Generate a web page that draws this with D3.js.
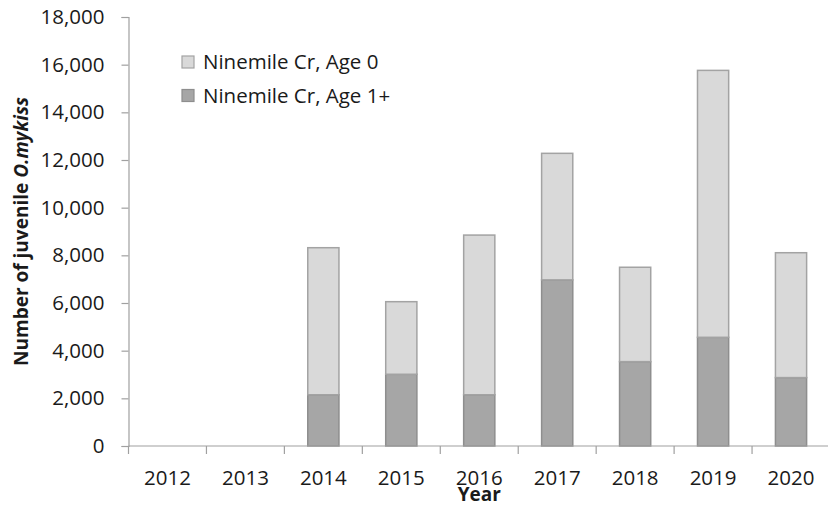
<!DOCTYPE html>
<html>
<head>
<meta charset="utf-8">
<script src="https://cdn.jsdelivr.net/npm/d3@7"></script>
<style>
  body { margin: 0; background: #fff; }
  text { font-family: "Open Sans", "Liberation Sans", sans-serif; fill: #1a1a1a; }
</style>
</head>
<body>
<div id="chart"></div>
<script>
// values
var years = ["2012", "2013", "2014", "2015", "2016", "2017", "2018", "2019", "2020"];
var age1 = [0, 0, 2150, 3010, 2150, 6970, 3540, 4560, 2870];
var age0 = [0, 0, 6170, 3045, 6700, 5310, 3960, 11200, 5240];
var yTicks = [0, 2000, 4000, 6000, 8000, 10000, 12000, 14000, 16000, 18000];
var seriesNames = ["Ninemile Cr, Age 0", "Ninemile Cr, Age 1+"];

var width = 828, height = 505;
var margin = {top: 17, left: 128.5, bottom: 59, right: -2};

var svg = d3.select("#chart").append("svg")
    .attr("width", width)
    .attr("height", height);

var rows = years.map(function(y, i) {
    return {year: y, age1: age1[i], age0: age0[i]};
});

// dark part at the bottom, light part stacked on top
var stacked = d3.stack().keys(["age1", "age0"])(rows);

var x = d3.scaleBand()
    .domain(years)
    .range([margin.left, width - margin.right])
    .padding(0);

var xBar = d3.scaleBand()
    .domain(years)
    .range([margin.left, width - margin.right])
    .paddingInner(0.6)
    .paddingOuter(0.3);

var y = d3.scaleLinear()
    .domain([0, 18000])
    .range([height - margin.bottom, margin.top]);

var fills = {age1: "#a6a6a6", age0: "#d9d9d9"};
var strokes = {age1: "#8e8e8e", age0: "#a3a3a3"};

// bars
svg.selectAll("g.layer")
    .data(stacked)
    .enter()
    .append("g")
    .attr("class", "layer")
    .each(function(layer) {
        d3.select(this).selectAll("rect")
            .data(layer.filter(function(d) { return d[1] > d[0]; }))
            .enter()
            .append("rect")
            .attr("x", function(d) { return xBar(d.data.year); })
            .attr("width", xBar.bandwidth())
            .attr("y", function(d) { return y(d[1]); })
            .attr("height", function(d) { return y(d[0]) - y(d[1]); })
            .style("fill", fills[layer.key])
            .style("stroke", strokes[layer.key])
            .style("stroke-width", 1.5);
    });

// y axis
var yAxis = svg.append("g")
    .attr("transform", "translate(" + margin.left + ",0)")
    .call(d3.axisLeft(y).tickValues(yTicks).tickFormat(d3.format(",")).tickSize(7).tickPadding(17));
yAxis.select(".domain").attr("stroke", "#a0a0a0").attr("stroke-width", 1.2);
yAxis.selectAll(".tick line").attr("stroke", "#a0a0a0").attr("stroke-width", 1.2);
yAxis.selectAll(".tick text")
    .style("font-size", "20.5px")
    .style("font-family", "'Open Sans', sans-serif")
    .attr("fill", "#1a1a1a");

// x axis: line, ticks on category boundaries, labels at centres
var y0 = y(0);
svg.append("line")
    .attr("x1", margin.left).attr("x2", width)
    .attr("y1", y0).attr("y2", y0)
    .attr("stroke", "#a0a0a0").attr("stroke-width", 1.2);

var bounds = years.map(function(d) { return x(d); });
bounds.push(x(years[years.length - 1]) + x.step());
svg.selectAll("line.xtick")
    .data(bounds)
    .enter()
    .append("line")
    .attr("class", "xtick")
    .attr("x1", function(d) { return d; })
    .attr("x2", function(d) { return d; })
    .attr("y1", y0)
    .attr("y2", y0 + 8)
    .attr("stroke", "#a0a0a0").attr("stroke-width", 1.2);

svg.selectAll("text.xlab")
    .data(years)
    .enter()
    .append("text")
    .attr("class", "xlab")
    .attr("x", function(d) { return x(d) + x.bandwidth() / 2; })
    .attr("y", y0 + 39)
    .attr("text-anchor", "middle")
    .style("font-size", "20.5px")
    .text(function(d) { return d; });

// axis titles
svg.append("text")
    .attr("x", (margin.left + width - margin.right) / 2)
    .attr("y", 501)
    .attr("text-anchor", "middle")
    .style("font-size", "19px")
    .style("font-weight", "bold")
    .text("Year");

var yTitle = svg.append("text")
    .attr("transform", "translate(28," + (y(0) + y(18000)) / 2 + ") rotate(-90)")
    .attr("text-anchor", "middle")
    .style("font-size", "19px")
    .style("font-weight", "bold");
yTitle.append("tspan").text("Number of juvenile ");
yTitle.append("tspan").style("font-style", "italic").text("O.mykiss");

// legend
var legend = svg.append("g").attr("transform", "translate(182,56)");
var legendKeys = ["age0", "age1"];
legendKeys.forEach(function(k, i) {
    var g = legend.append("g").attr("transform", "translate(0," + (i * 33.5) + ")");
    g.append("rect")
        .attr("width", 12).attr("height", 12)
        .style("fill", fills[k])
        .style("stroke", strokes[k])
        .style("stroke-width", 1.2);
    g.append("text")
        .attr("x", 21)
        .attr("y", 13)
        .style("font-size", "20.5px")
        .text(seriesNames[i]);
});
</script>
</body>
</html>
